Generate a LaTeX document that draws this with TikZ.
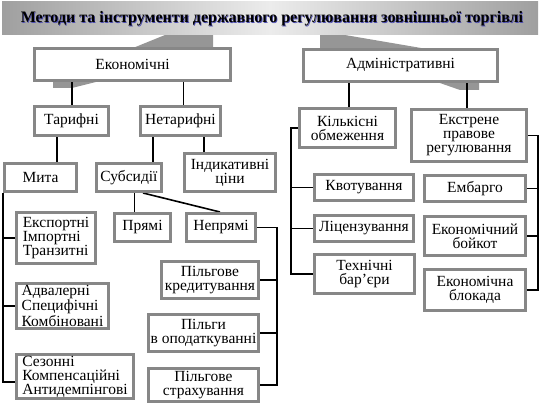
\documentclass[tikz,border=0pt]{standalone}
\usepackage{fontspec}
\setmainfont{Liberation Serif}
\usetikzlibrary{backgrounds,calc}
\definecolor{bordergray}{RGB}{135,135,135}
\definecolor{wedgegray}{RGB}{150,150,150}
\tikzset{
  box/.style={draw=bordergray, line width=2.6pt, fill=white, inner sep=0pt,
    align=center, font=\fontsize{15.5}{14}\selectfont},
  boxl/.style={align=left},
  thickline/.style={line width=1.6pt, black},
  thinline/.style={line width=0.8pt, black},
  wedge/.style={fill=wedgegray, draw=none},
}
\newcommand{\bx}[7][]{%
  \node[box,#1,minimum width={#5pt-#3pt-2.6pt},minimum height={#6pt-#4pt-2.6pt}]
    (#2) at ({(#3+#5)/2},{(#4+#6)/2}) {#7};}
\begin{document}
\begin{tikzpicture}[x=1pt,y=-1pt]
\useasboundingbox (0,0) rectangle (541,411);
% banner
\shade[left color=gray!75, right color=gray!75, middle color=gray!15] (2,2) rectangle (538,35);
\node[font=\fontsize{16}{18}\selectfont\bfseries, text=gray!60!blue] at (272.8,19.3) {Методи та інструменти державного регулювання зовнішньої торгівлі};
\node[font=\fontsize{16}{18}\selectfont\bfseries] (title) at (272,18.5) {Методи та інструменти державного регулювання зовнішньої торгівлі};
% top-level boxes
\bx{ekon}{33}{47}{232}{82}{Економічні}
\bx{adm}{302}{48}{499}{83}{Адміністративні}
% economic branch
\bx{taryf}{33}{105}{110}{137}{Тарифні}
\bx{netaryf}{139}{105}{222}{137}{Нетарифні}
\bx{mita}{3}{162}{78}{193}{Мита}
\bx{subs}{95}{162}{163}{193}{Субсидії}
\bx{indyk}{183}{152}{277}{193}{Індикативні\\ціни}
\bx{pryami}{113}{212}{172}{243}{Прямі}
\bx{nepr}{185}{212}{257}{243}{Непрямі}
\bx[boxl]{exp}{15}{211}{97}{265}{Експортні\\Імпортні\\Транзитні}
\bx[boxl]{adv}{15}{282}{110}{330}{Адвалерні\\Специфічні\\Комбіновані}
\bx[boxl]{sez}{15}{353}{135}{400}{Сезонні\\Компенсаційні\\Антидемпінгові}
\bx{pk}{160}{260}{260}{300}{Пільгове\\кредитування}
\bx{po}{147}{313}{260}{353}{Пільги\\в оподаткуванні}
\bx{ps}{147}{367}{260}{403}{Пільгове\\страхування}
% administrative branch
\bx{kilk}{298}{107}{397}{149}{Кількісні\\обмеження}
\bx{ekstr}{410}{108}{528}{163}{Екстрене\\правове\\регулювання}
\bx{kvot}{313}{173}{415}{202}{Квотування}
\bx{lic}{313}{214}{415}{243}{Ліцензування}
\bx{tech}{313}{253}{416}{295}{Технічні\\бар’єри}
\bx{emb}{423}{174}{527}{203}{Ембарго}
\bx{boik}{423}{215}{527}{257}{Економічний\\бойкот}
\bx{blok}{423}{268}{527}{312}{Економічна\\блокада}
\begin{pgfonlayer}{background}
  % callout wedges
  \fill[wedge] (133,48) -- (165,35) -- (213,35) -- (213,48) -- cycle;
  \fill[wedge] (53,81) -- (100,81) -- (72,88) -- (53,88) -- cycle;
  \fill[wedge] (320,35) -- (345,35) -- (427,49) -- (320,49) -- cycle;
  \fill[wedge] (437,82) -- (479,82) -- (479,90) -- (460,90) -- cycle;
  % connectors
  \draw[thickline] (ekon.south -| 72,0) -- (taryf.north -| 72,0);
  \draw[thinline] (ekon.south -| 183,0) -- (netaryf.north -| 183,0);
  \draw[thickline] (taryf.south -| 57,0) -- (mita.north -| 57,0);
  \draw[thickline] (netaryf.south -| 153,0) -- (subs.north -| 153,0);
  \draw[thickline] (netaryf.south -| 204,0) -- (indyk.north -| 204,0);
  \draw[thinline] (subs.south -| 134,0) -- (pryami.north -| 134,0);
  \draw[thickline] (subs.south -| 143,0) -- (nepr.north -| 220,0);
  \draw[thickline] (mita.south west) -- ([yshift=-5.5pt]sez.west -| mita.south west) -- ([yshift=-5.5pt]sez.west);
  \draw[thickline] (exp.west -| mita.south west) -- (exp.west);
  \draw[thickline] (adv.west -| mita.south west) -- (adv.west);
  \draw[thickline] (nepr.east) -- (nepr.east -| 277,0) -- (ps.east -| 277,0) -- (ps.east);
  \draw[thickline] (pk.east) -- (pk.east -| 277,0);
  \draw[thickline] (po.east) -- (po.east -| 277,0);
  \draw[thickline] (adm.south -| 349,0) -- (kilk.north -| 349,0);
  \draw[thickline] (adm.south -| 467,0) -- (ekstr.north -| 467,0);
  \draw[thickline] (kilk.west) -- (kilk.west -| 291,0) -- (tech.west -| 291,0) -- (tech.west);
  \draw[thickline] (kvot.west) -- (kvot.west -| 291,0);
  \draw[thickline] (lic.west) -- (lic.west -| 291,0);
  \draw[thickline] (ekstr.east) -- (ekstr.east -| 538,0) -- (blok.east -| 538,0) -- (blok.east);
  \draw[thickline] (emb.east) -- (emb.east -| 538,0);
  \draw[thickline] (boik.east) -- (boik.east -| 538,0);
\end{pgfonlayer}
\end{tikzpicture}
\end{document}
